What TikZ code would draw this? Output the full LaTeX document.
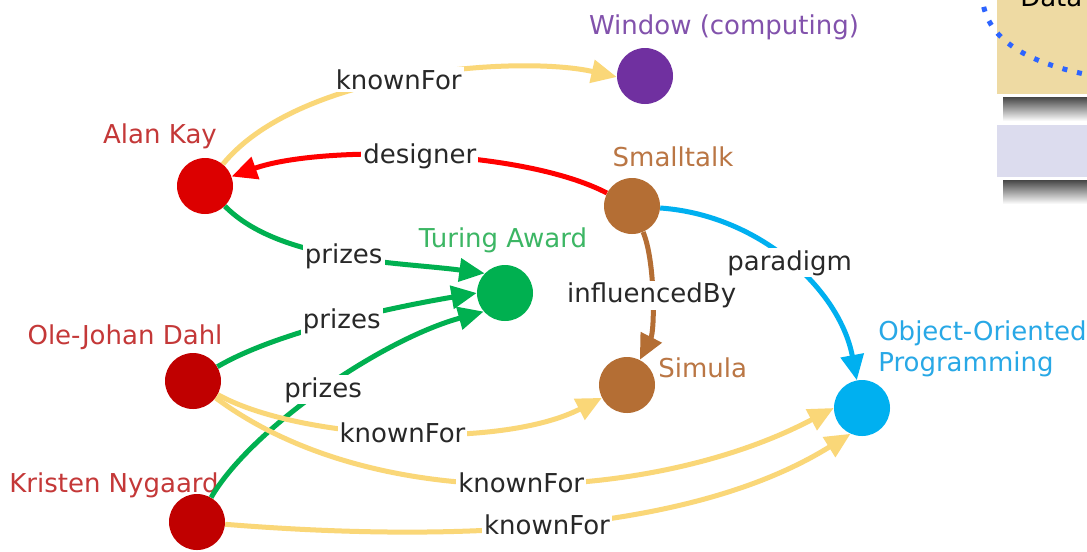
\documentclass[tikz,border=0pt]{standalone}
\usepackage{fontspec}
\setmainfont{DejaVu Sans}
\usetikzlibrary{arrows.meta}
\definecolor{akred}{RGB}{220,0,0}
\definecolor{djred}{RGB}{192,0,0}
\definecolor{lred}{RGB}{196,56,56}
\definecolor{wpurple}{RGB}{112,48,160}
\definecolor{lpurple}{RGB}{130,82,172}
\definecolor{sbrown}{RGB}{180,110,52}
\definecolor{lbrown}{RGB}{186,118,68}
\definecolor{tgreen}{RGB}{0,176,80}
\definecolor{lgreen}{RGB}{60,182,100}
\definecolor{ocyan}{RGB}{0,176,240}
\definecolor{lcyan}{RGB}{40,168,230}
\definecolor{kfyellow}{RGB}{250,215,120}
\definecolor{dsred}{RGB}{255,0,0}
\definecolor{boxtan}{RGB}{238,218,163}
\definecolor{boxlav}{RGB}{220,220,238}
\definecolor{dotblue}{RGB}{45,100,255}
\definecolor{etext}{RGB}{40,40,40}
\definecolor{shadowgray}{RGB}{70,70,70}
\begin{document}
\begin{tikzpicture}[x=0.75pt,y=-0.75pt,
  font=\fontsize{19.5}{23}\selectfont,
  dot/.style={circle,inner sep=0pt,minimum size=42pt},
  nlbl/.style={inner sep=0pt,anchor=base},
  elbl/.style={fill=white,text=etext,inner sep=1.5pt},
  edge/.style={line width=3.75pt,-{Triangle[length=19pt,width=17pt]}},
  kf/.style={edge,draw=kfyellow},
  pz/.style={edge,draw=tgreen},
  boxshade/.style={top color=shadowgray,bottom color=white,draw=none}
]
\useasboundingbox (0,0) rectangle (1087,551);
\fill[white] (0,0) rectangle (1087,551);
\begin{scope}
\clip (0,0) rectangle (1087,551);
\shade[boxshade] (1003,97) rectangle (1095,121);
\shade[boxshade] (1003,180) rectangle (1095,204);
\fill[boxtan,draw=white,line width=2.25pt] (995,-40) rectangle (1140,95);
\node[anchor=base west,inner sep=0pt] (datat) at (1020,6) {Data};
\fill[boxlav,draw=white,line width=2.25pt] (995,123) rectangle (1140,178);
\draw[dotblue,line width=3.75pt,dash pattern=on 3.75pt off 7.5pt] (982,-8) .. controls (982,40) and (1030,65) .. (1100,77);
\end{scope}

% nodes
\node[dot,fill=wpurple] (win) at (645,76) {};
\node[dot,fill=akred] (ak) at (205,186) {};
\node[dot,fill=sbrown] (st) at (632,206) {};
\node[dot,fill=tgreen] (tu) at (505,293) {};
\node[dot,fill=djred] (oj) at (193,381) {};
\node[dot,fill=sbrown] (si) at (627,385) {};
\node[dot,fill=ocyan] (oop) at (862,408) {};
\node[dot,fill=djred] (kn) at (197,522) {};

% node labels
\node[nlbl,text=lpurple] (winl) at (724,34) {Window (computing)};
\node[nlbl,text=lred] (akl) at (160,143) {Alan Kay};
\node[nlbl,text=lbrown] (stl) at (673,166) {Smalltalk};
\node[nlbl,text=lgreen] (tul) at (503,247) {Turing Award};
\node[nlbl,text=lred] (ojl) at (125,344) {Ole-Johan Dahl};
\node[nlbl,text=lbrown,anchor=base west] (sil) at (658,377) {Simula};
\node[nlbl,text=lcyan,anchor=base west] (oopl1) at (878,340) {Object-Oriented};
\node[nlbl,text=lcyan,anchor=base west] (oopl2) at (878,371) {Programming};
\node[nlbl,text=lred] (knl) at (114,492) {Kristen Nygaard};

% edges
\draw[kf] (ak) .. controls (300,70) and (520,55) .. node[elbl,pos=0.47] (e1) {knownFor} (win.182);
\draw[edge,draw=dsred] (st) .. controls (520,148) and (320,145) .. node[elbl,pos=0.5] (e2) {designer} (ak);
\draw[pz] (ak) .. controls (280,262) and (400,262) .. node[elbl,pos=0.5] (e3) {prizes} (tu.136);
\draw[pz] (oj) .. controls (280,330) and (400,306) .. node[elbl,pos=0.5] (e4) {prizes} (tu.180);
\draw[pz] (kn) .. controls (250,430) and (380,340) .. node[elbl,pos=0.5] (e5) {prizes} (tu.221);
\draw[edge,draw=sbrown] (st) .. controls (655,260) and (655,330) .. node[elbl,pos=0.5] (e6) {influencedBy} (si);
\draw[edge,draw=ocyan] (st) .. controls (760,215) and (840,290) .. node[elbl,pos=0.5] (e7) {paradigm} (oop);
\draw[kf] (oj) .. controls (300,440) and (500,450) .. node[elbl,pos=0.5] (e8) {knownFor} (si);
\draw[kf] (oj) .. controls (380,520) and (660,500) .. node[elbl,pos=0.5] (e9) {knownFor} (oop.180);
\draw[kf] (kn) .. controls (420,540) and (680,540) .. node[elbl,pos=0.5] (e10) {knownFor} (oop.246);
\end{tikzpicture}
\end{document}
